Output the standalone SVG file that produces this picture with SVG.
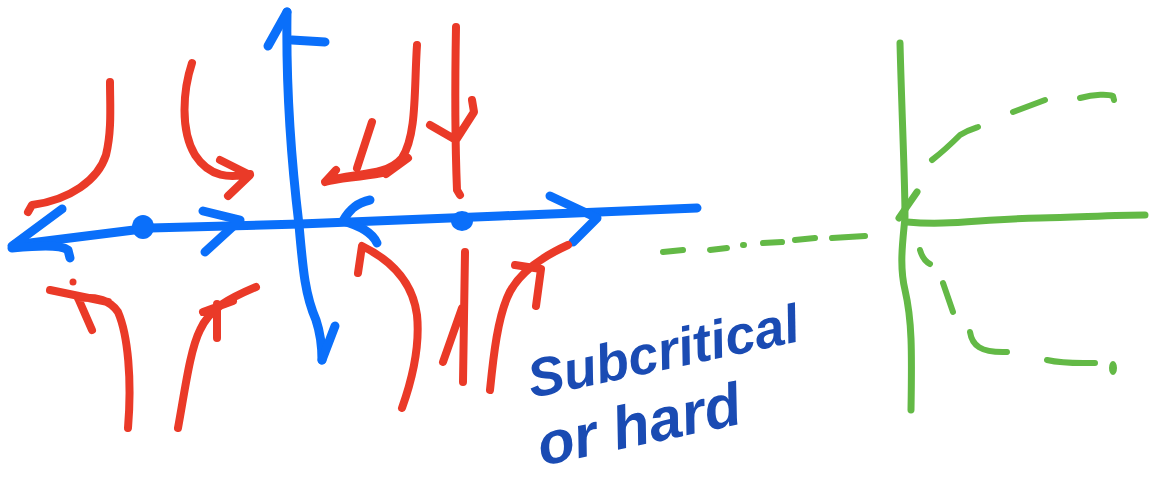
<svg xmlns="http://www.w3.org/2000/svg" width="1154" height="477" viewBox="0 0 1154 477">
<style>
.b{fill:none;stroke:#0a6ffa;stroke-width:9;stroke-linecap:round;stroke-linejoin:round}
.r{fill:none;stroke:#ea3a28;stroke-width:8;stroke-linecap:round;stroke-linejoin:round}
.g{fill:none;stroke:#63b946;stroke-width:7;stroke-linecap:round;stroke-linejoin:round}
.gd{fill:none;stroke:#63b946;stroke-width:6;stroke-linecap:round;stroke-linejoin:round}
.t{font-family:"Liberation Sans",Arial,sans-serif;font-style:italic;font-weight:bold;fill:#1a4bb3}
</style>
<rect width="1154" height="477" fill="#ffffff"/>
<g id="blue-axes">
<path class="b" d="M14,245 L150,228 L300,224 L500,216 L697,208"/>
<path class="b" d="M287,12 C286,80 290,150 299,225 C303,270 305,295 316,320 C321,335 322,350 322,360"/>
<path class="b" d="M287,12 L268,46 M292,40 L325,42"/>
<path class="b" d="M322,360 L335,326"/>
<path class="b" d="M12,246 L62,209 M12,248 C35,246 60,244 68,250 L70,258"/>
<path class="b" d="M203,211 L240,220 L205,252"/>
<path class="b" d="M370,200 C355,203 348,212 343,221 C360,226 372,232 377,243"/>
<path class="b" d="M550,196 L597,218 L573,242"/>
<ellipse cx="143" cy="227" rx="11" ry="12" fill="#0a6ffa"/>
<ellipse cx="462" cy="221" rx="11" ry="10" fill="#0a6ffa"/>
</g>
<g id="red-flows">
<path class="r" d="M110,82 C110,105 112,130 106,155 C98,180 70,200 32,205 L28,212"/>
<path class="r" d="M192,63 C183,90 180,130 195,155 C210,178 230,178 250,174 M220,160 L250,175 L228,196"/>
<path class="r" d="M128,428 C132,380 128,335 118,312 C110,300 98,297 78,298 M50,290 L108,302 M78,298 L92,330"/>
<circle cx="73" cy="282" r="3.5" fill="#ea3a28"/>
<path class="r" d="M178,428 C185,390 190,350 200,330 C210,308 230,298 256,287 M203,312 L233,301 M217,304 L217,338"/>
<path class="r" d="M417,45 C414,90 417,135 402,158 C385,178 350,172 325,182 L336,170 M325,182 C340,178 355,178 382,173 M372,122 L357,168 M408,158 L386,174"/>
<path class="r" d="M456,27 C455,80 455,140 457,190 L460,195 M430,125 L456,140 L474,112 L472,100"/>
<path class="r" d="M402,408 C412,380 420,345 417,315 C413,285 395,262 362,246 L358,273"/>
<path class="r" d="M463,382 L465,252 M443,362 L462,308"/>
<path class="r" d="M490,390 C494,350 498,320 507,298 C515,278 535,260 568,245 M515,265 L541,269 L536,306"/>
</g>
<g id="green-sketch">
<path class="g" d="M900,43 C902,120 905,180 905,217 C903,240 899,265 905,290 C912,320 912,350 911,410"/>
<path class="g" d="M907,222 C950,226 980,219 1040,218 C1080,217 1120,215 1145,215"/>
<path class="g" d="M899,218 L917,192"/>
<path class="gd" d="M663,252 L683,250 M710,250 L727,248 M743,245 L744,245 M763,243 L782,242 M795,240 L815,238 M832,238 L865,236"/>
<path class="gd" d="M932,160 C945,150 955,140 960,135 C968,130 975,128 978,127 M1013,112 L1045,100 M1080,98 C1095,94 1108,94 1113,96 L1114,100"/>
<path class="gd" d="M920,250 C922,257 926,262 930,264 M943,283 L953,312 M970,332 C972,345 980,353 1007,352 M1047,360 C1065,364 1080,363 1095,363"/>
<ellipse cx="1113" cy="368" rx="4" ry="7" fill="#63b946"/>
</g>
<g id="label">
<text class="t" font-size="54" transform="translate(532,398) rotate(-12)">Subcritical</text>
<text class="t" font-size="60" transform="translate(542,466) rotate(-12)">or hard</text>
</g>
</svg>
